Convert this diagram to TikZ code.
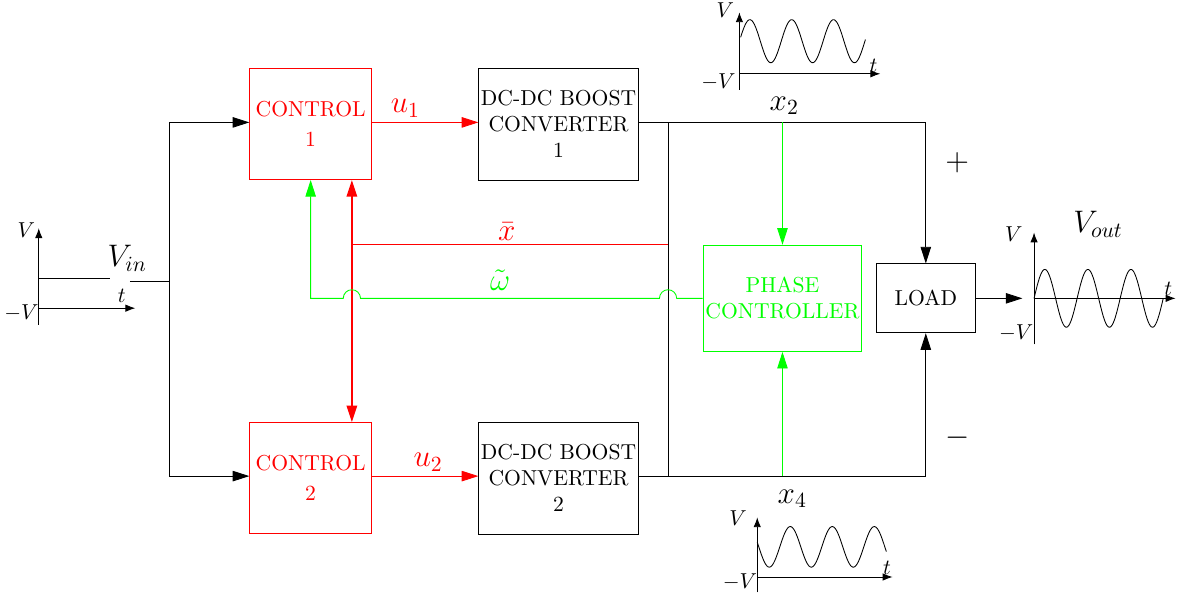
\documentclass[tikz,border=0pt]{standalone}
\usetikzlibrary{arrows.meta}
\begin{document}
\begin{tikzpicture}[
        block/.style={draw, align=center, minimum width=1.98cm, minimum height=1.8cm, inner sep=1pt},
        tri/.style={-{Triangle[length=2.7mm,width=1.7mm]}},
        tritri/.style={{Triangle[length=2.7mm,width=1.7mm]}-{Triangle[length=2.7mm,width=1.7mm]}},
        axis/.style={-{Latex[length=1.6mm,width=1.2mm]}},
        lab/.style={font=\Large}]
        \useasboundingbox (0,0) rectangle (19.15,9.74);
        % blocks
        \node[block, draw=red, text=red] (ctrlA) at (5.05,7.72) {CONTROL\\[2pt]1};
        \node[block, draw=red, text=red] (ctrlB) at (5.05,1.97) {CONTROL\\[2pt]2};
        \node[block, minimum width=2.59cm, minimum height=1.82cm] (convA) at (9.08,7.72) {DC-DC BOOST\\CONVERTER\\1};
        \node[block, minimum width=2.59cm, minimum height=1.82cm] (convB) at (9.08,1.97) {DC-DC BOOST\\CONVERTER\\2};
        \node[block, draw=green, text=green, line width=0.6pt, minimum width=2.55cm, minimum height=1.72cm] (phase) at (12.72,4.89) {PHASE\\CONTROLLER};
        \node[block, minimum width=1.6cm, minimum height=1.12cm] (load) at (15.05,4.89) {LOAD};
        \coordinate (vin) at (2.11,5.17);
        \coordinate (split) at (2.75,5.17);
        \coordinate (busT) at (10.86,7.75);
        \coordinate (busB) at (10.86,2.0);
        \coordinate (xin) at (10.86,5.76);
        \coordinate (xsplit) at (5.72,5.76);
        \coordinate (vout) at (16.62,4.89);
        % input
        \draw (vin) -- (split);
        \draw[tri] (split) |- (ctrlA.west |- busT);
        \draw[tri] (split) |- (ctrlB.west |- busB);
        \node[lab] at (2.07,5.54) {$V_{in}$};
        % control signals
        \draw[red, tri] (ctrlA.east |- busT) -- (convA.west |- busT);
        \draw[red, tri] (ctrlB.east |- busB) -- (convB.west |- busB);
        \node[lab, red] at (6.59,7.98) {$u_1$};
        \node[lab, red] at (6.96,2.23) {$u_2$};
        % outputs
        \draw (busT) -- (busB);
        \draw[tri] (convA.east |- busT) -| (load.north);
        \draw[tri] (convB.east |- busB) -| (load.south);
        \draw[tri] (load.east) -- (vout);
        \node[lab] at (12.75,8.02) {$x_2$};
        \node[lab] at (12.88,1.63) {$x_4$};
        \node[lab] at (15.56,7.09) {$+$};
        \node[lab] at (15.56,2.63) {$-$};
        % feedback
        \draw[green, tri] (phase.north |- busT) -- (phase.north);
        \draw[green, tri] (phase.south |- busB) -- (phase.south);
        \draw[red] (xin) -- (xsplit);
        \draw[red, thick, tritri] (ctrlA.south -| xsplit) -- (ctrlB.north -| xsplit);
        \node[lab, red] at (8.24,5.98) {$\bar{x}$};
        \draw[green, tri] (phase.west) -- (11.0,4.89) arc (0:180:0.14) -- (5.86,4.89) arc (0:180:0.14) -- (ctrlA.south |- phase.west) -- (ctrlA.south);
        \node[lab, green] at (8.13,5.19) {$\tilde{\omega}$};
        % input signal
        \begin{scope}[shift={(0.63,4.73)}]
        \draw[axis] (0,-0.27) -- (0,1.30);
        \draw[axis] (0,0) -- (1.57,0);
        \draw (0,0.49) -- (1.16,0.49);
        \node at (-0.2,1.27) {$V$};
        \node at (-0.28,-0.08) {$-V$};
        \node at (1.35,0.2) {$t$};
        \end{scope}
        % x2 signal
        \begin{scope}[shift={(12.02,8.54)}]
        \draw[axis] (0,-0.26) -- (0,1.0);
        \draw[axis] (0,0) -- (2.29,0);
        \draw[domain=0.02:2.05, samples=120, smooth] plot (\x, {0.53+0.35*sin(\x/0.68*360)});
        \node at (-0.23,1.04) {$V$};
        \node at (-0.34,-0.13) {$-V$};
        \node at (2.18,0.13) {$t$};
        \end{scope}
        % x4 signal
        \begin{scope}[shift={(12.31,0.36)}]
        \draw[axis] (0,-0.25) -- (0,0.97);
        \draw[axis] (0,0) -- (2.2,0);
        \draw[domain=0:2.1, samples=120, smooth] plot (\x, {0.49+0.33*cos((\x-0.537)/0.683*360)});
        \node at (-0.31,0.96) {$V$};
        \node at (-0.28,-0.08) {$-V$};
        \node at (2.11,0.15) {$t$};
        \end{scope}
        % output signal
        \begin{scope}[shift={(16.81,4.89)}]
        \draw[axis] (0,-0.75) -- (0,1.07);
        \draw[axis] (0,0) -- (2.30,0);
        \draw[domain=0:2.1, samples=120, smooth] plot (\x, {0.47*sin(\x/0.70*360)});
        \node at (-0.33,1.04) {$V$};
        \node at (-0.29,-0.57) {$-V$};
        \node at (2.18,0.15) {$t$};
        \node[lab] at (1.04,1.2) {$V_{out}$};
        \end{scope}
\end{tikzpicture}
\end{document}
